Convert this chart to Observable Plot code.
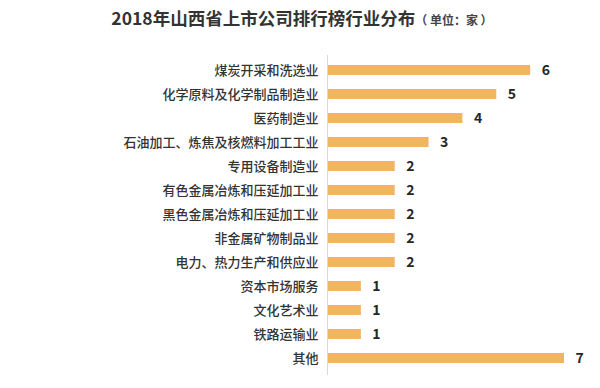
<!DOCTYPE html>
<html>
<head>
<meta charset="utf-8">
<script src="https://cdn.jsdelivr.net/npm/d3@7"></script>
<script src="https://cdn.jsdelivr.net/npm/@observablehq/plot@0.6"></script>
<style>
  html, body { margin: 0; padding: 0; background: #fff; }
  body { width: 600px; height: 388px; overflow: hidden; font-family: "Noto Sans CJK SC", sans-serif; }
  #title { height: 40px; line-height: 35px; text-align: center; font-size: 17.5px; font-weight: bold; color: #333; padding-left: 4px; }
  #title span { font-size: 12px; font-weight: bold; color: #444; }
</style>
</head>
<body>
<div id="title">2018年山西省上市公司排行榜行业分布<span>（ 单位：家 ）</span></div>
<div id="chart"></div>
<script>
const categories = [
  "煤炭开采和洗选业",
  "化学原料及化学制品制造业",
  "医药制造业",
  "石油加工、炼焦及核燃料加工工业",
  "专用设备制造业",
  "有色金属冶炼和压延加工业",
  "黑色金属冶炼和压延加工业",
  "非金属矿物制品业",
  "电力、热力生产和供应业",
  "资本市场服务",
  "文化艺术业",
  "铁路运输业",
  "其他"
];
const values = [6, 5, 4, 3, 2, 2, 2, 2, 2, 1, 1, 1, 7];

const data = categories.map((c, i) => ({category: c, value: values[i]}));

const chart = Plot.plot({
  width: 600,
  height: 348,
  marginLeft: 327,
  marginRight: 36,
  marginTop: 15,
  marginBottom: 13,
  style: {fontFamily: "'Noto Sans CJK SC', sans-serif", background: "#fff"},
  x: {domain: [0, 7], axis: null},
  y: {domain: categories, range: [10.8, 337.2], padding: 0.6, label: null},
  marks: [
    Plot.barX(data, {y: "category", x: "value", fill: "#F0B462"}),
    Plot.ruleX([0], {stroke: "#d9d9d9", strokeWidth: 1}),
    Plot.axisY({tickSize: 0, tickPadding: 9, fontSize: 13, color: "#333", fontWeight: 500, label: null}),
    Plot.text(data, {y: "category", x: "value", text: d => String(d.value), dx: 11, textAnchor: "start", fontSize: 14, fontWeight: "bold", fill: "#262626"})
  ]
});
document.getElementById("chart").appendChild(chart);
</script>
</body>
</html>
